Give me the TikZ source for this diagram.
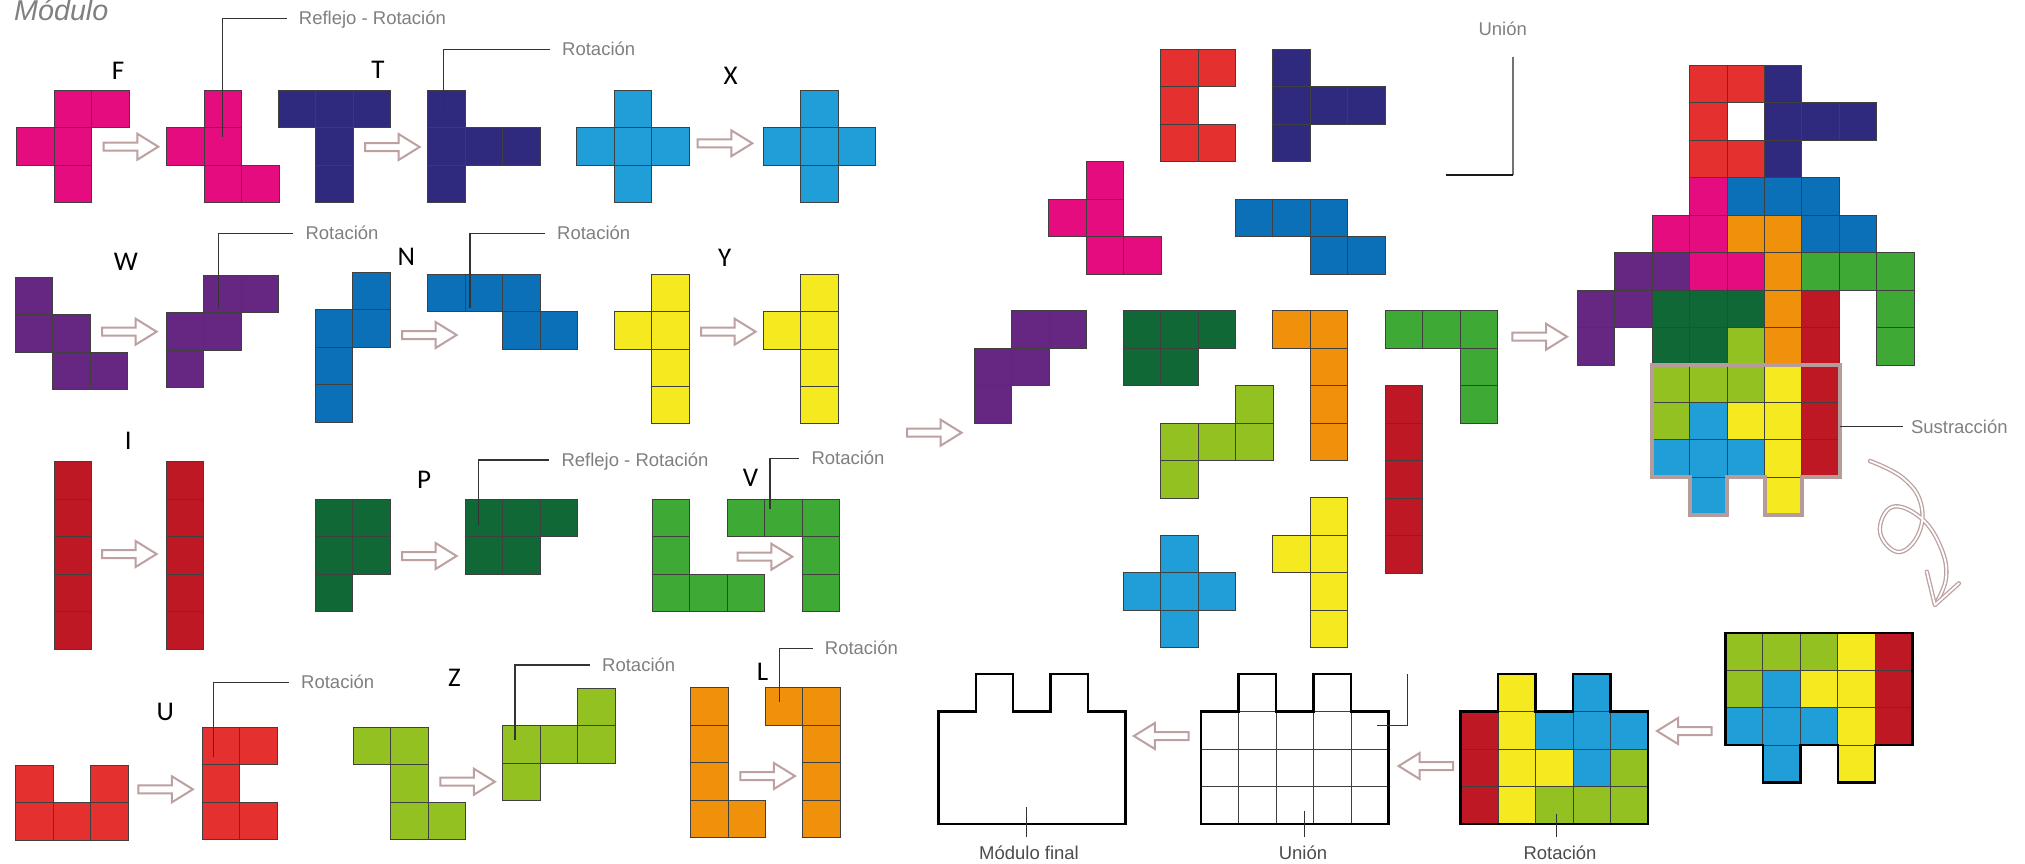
\documentclass[tikz,border=0pt]{standalone}
\usepackage{fontspec}
\setmainfont{Liberation Sans}
\newfontfamily\lblfont{Carlito}
\definecolor{cF}{HTML}{E40C7E}
\definecolor{cT}{HTML}{2F2A7E}
\definecolor{cX}{HTML}{209ED8}
\definecolor{cW}{HTML}{652781}
\definecolor{cN}{HTML}{0B70B7}
\definecolor{cY}{HTML}{F5E920}
\definecolor{cI}{HTML}{BE1824}
\definecolor{cP}{HTML}{106836}
\definecolor{cV}{HTML}{3EAA35}
\definecolor{cU}{HTML}{E53030}
\definecolor{cZ}{HTML}{93C121}
\definecolor{cL}{HTML}{F0910C}
\definecolor{arrowc}{HTML}{BCA1A0}
\definecolor{subc}{HTML}{B59C9B}
\definecolor{textgray}{HTML}{808080}
\def\cs{37.45}
\newcommand\pmino[4]{\foreach \cc/\rr in {#4}{\draw[cell,fill=#1] ({#2+\cc*\cs},{#3+\rr*\cs}) rectangle ++(\cs,\cs);}}
\newcommand\barR[2]{\draw[barrow] (#1,#2) ++(1,-4) -- ++(33.6,0) -- ++(0,-9) -- ++(21,13) -- ++(-21,13) -- ++(0,-9) -- ++(-33.6,0) -- cycle;}
\newcommand\barL[2]{\draw[barrow] (#1,#2) ++(-1,-4) -- ++(-33.6,0) -- ++(0,-9) -- ++(-21,13) -- ++(21,13) -- ++(0,-9) -- ++(33.6,0) -- cycle;}
\newcommand\callout[6]{\node[callt,anchor=west] (#1) at (#5,#4) {#6};
  \draw[cline] (#2,#3) |- (#1.west);}
\newcommand\tabsdown[3]{\draw[#1] (#2,#3) -- ++(5*\cs,0) -- ++(0,3*\cs) -- ++(-\cs,0) -- ++(0,\cs) -- ++(-\cs,0) -- ++(0,-\cs) -- ++(-\cs,0) -- ++(0,\cs) -- ++(-\cs,0) -- ++(0,-\cs) -- ++(-\cs,0) -- cycle;}
\newcommand\tabsup[3]{\draw[#1] (#2,#3) ++(0,\cs) -- ++(\cs,0) -- ++(0,-\cs) -- ++(\cs,0) -- ++(0,\cs) -- ++(\cs,0) -- ++(0,-\cs) -- ++(\cs,0) -- ++(0,\cs) -- ++(\cs,0) -- ++(0,3*\cs) -- ++(-5*\cs,0) -- cycle;}
\begin{document}
\begin{tikzpicture}[x=1pt,y=-1pt,
  cell/.style={draw=black!75,line width=0.8},
  barrow/.style={draw=arrowc,line width=2,fill=white,line join=miter},
  callt/.style={font=\fontsize{18.5}{22}\selectfont,text=textgray,inner xsep=12,inner ysep=0,text height=17,text depth=3.7},
  botl/.style={font=\fontsize{18.5}{22}\selectfont,text=black!70,inner xsep=0,inner ysep=5,text height=17,text depth=3.7},
  cline/.style={draw=black!80,line width=1.2},
  lbl/.style={font=\lblfont\fontsize{27}{30}\selectfont,anchor=base,inner sep=0},
  thickout/.style={draw=black,line width=2.5,line join=miter},
  subout/.style={draw=subc,line width=4,line join=miter},
  curly/.style={draw=arrowc,double=white,double distance=1.8,line width=1.3,line join=round,line cap=round}]
\useasboundingbox (0,0) rectangle (2025,864);
\fill[white] (0,0) rectangle (2025,864);
% title
\node[font=\itshape\fontsize{28.7}{32}\selectfont,text=textgray,anchor=base west,inner sep=0] (title) at (14,21) {Módulo};
% ---------- left panel ----------
% F
\pmino{cF}{16.7}{90}{1/0,2/0,0/1,1/1,1/2}
\pmino{cF}{166.7}{90}{1/0,0/1,1/1,1/2,2/2}
\barR{102.7}{146.7}
\node[lbl] (lF) at (118,80) {F};
% T
\pmino{cT}{278.3}{90}{0/0,1/0,2/0,1/1,1/2}
\pmino{cT}{427.7}{90}{0/0,0/1,1/1,2/1,0/2}
\barR{364}{147}
\node[lbl] (lT) at (378,79) {T};
% X
\pmino{cX}{576.7}{90}{1/0,0/1,1/1,2/1,1/2}
\pmino{cX}{763.3}{90}{1/0,0/1,1/1,2/1,1/2}
\barR{696.7}{143.3}
\node[lbl] (lX) at (730.7,85) {X};
% W
\pmino{cW}{15}{277.3}{0/0,0/1,1/1,1/2,2/2}
\pmino{cW}{166}{275}{1/0,2/0,0/1,1/1,0/2}
\barR{101}{331.7}
\node[lbl] (lW) at (125.8,270) {W};
% N
\pmino{cN}{315.3}{272.3}{1/0,0/1,1/1,0/2,0/3}
\pmino{cN}{427.7}{274}{0/0,1/0,2/0,2/1,3/1}
\barR{401}{335}
\node[lbl] (lN) at (406.3,265) {N};
% Y
\pmino{cY}{614.3}{274}{1/0,0/1,1/1,1/2,1/3}
\pmino{cY}{763.3}{274}{1/0,0/1,1/1,1/2,1/3}
\barR{700}{331.7}
\node[lbl] (lY) at (724.7,266.7) {Y};
% I
\pmino{cI}{54.3}{461.7}{0/0,0/1,0/2,0/3,0/4}
\pmino{cI}{166}{461.7}{0/0,0/1,0/2,0/3,0/4}
\barR{101}{554}
\node[lbl] (lI) at (128.3,449.3) {I};
% P
\pmino{cP}{315.3}{499}{0/0,1/0,0/1,1/1,0/2}
\pmino{cP}{465}{499}{0/0,1/0,2/0,0/1,1/1}
\barR{401}{556}
\node[lbl] (lP) at (424,488.3) {P};
% V
\pmino{cV}{652.3}{499}{0/0,0/1,0/2,1/2,2/2}
\pmino{cV}{727.3}{499}{0/0,1/0,2/0,2/1,2/2}
\barR{736.7}{556.7}
\node[lbl] (lV) at (750.5,486.7) {V};
% U
\pmino{cU}{15.7}{765}{0/0,2/0,0/1,1/1,2/1}
\pmino{cU}{202.3}{727.3}{0/0,1/0,0/1,0/2,1/2}
\barR{137.3}{789.3}
\node[lbl] (lU) at (165.3,720) {U};
% Z
\pmino{cZ}{353.3}{727.3}{0/0,1/0,1/1,1/2,2/2}
\pmino{cZ}{502.7}{688.3}{2/0,0/1,1/1,2/1,0/2}
\barR{439.3}{781.7}
\node[lbl] (lZ) at (454.5,686) {Z};
% L
\pmino{cL}{690.7}{687.7}{0/0,0/1,0/2,0/3,1/3}
\pmino{cL}{765}{687.7}{0/0,1/0,1/1,1/2,1/3}
\barR{739.3}{776}
\node[lbl] (lL) at (762.5,680.7) {L};
% callouts
\callout{kF}{222.7}{136.7}{18.3}{286.7}{Reflejo - Rotación}
\callout{kT}{443.3}{111.7}{49.3}{550}{Rotación}
\callout{kW}{218.3}{308.3}{233.3}{293.3}{Rotación}
\callout{kN}{470}{308.3}{233.3}{545}{Rotación}
\callout{kP}{478.3}{525}{460}{549.3}{Reflejo - Rotación}
\callout{kV}{770}{509.3}{458.3}{799.3}{Rotación}
\callout{kU}{213.7}{756.7}{682.3}{289}{Rotación}
\callout{kZ}{515}{740}{665}{590}{Rotación}
\callout{kL}{779.3}{701.7}{648.3}{812.7}{Rotación}
% big arrow
\barR{906}{432.7}
% ---------- middle pieces ----------
\pmino{cU}{1160.7}{49.3}{0/0,1/0,0/1,0/2,1/2}
\pmino{cT}{1272.7}{49.3}{0/0,0/1,1/1,2/1,0/2}
\pmino{cF}{1048.7}{161.7}{1/0,0/1,1/1,1/2,2/2}
\pmino{cN}{1235.3}{199}{0/0,1/0,2/0,2/1,3/1}
\pmino{cW}{974}{310.7}{1/0,2/0,0/1,1/1,0/2}
\pmino{cP}{1123.3}{310.7}{0/0,1/0,2/0,0/1,1/1}
\pmino{cL}{1272.7}{310.7}{0/0,1/0,1/1,1/2,1/3}
\pmino{cV}{1385}{310.7}{0/0,1/0,2/0,2/1,2/2}
\pmino{cZ}{1160.7}{385.7}{2/0,0/1,1/1,2/1,0/2}
\pmino{cI}{1385}{385.7}{0/0,0/1,0/2,0/3,0/4}
\pmino{cX}{1123.3}{535}{1/0,0/1,1/1,2/1,1/2}
\pmino{cY}{1272.7}{497.7}{1/0,0/1,1/1,1/2,1/3}
\barR{1511.4}{336.7}
% Union label top
\node[callt,inner xsep=0] (lun) at (1502.7,29) {Unión};
\coordinate (ua) at (1513.4,56.7);
\coordinate (ub) at (1513.4,175);
\coordinate (uc) at (1446,175);
\draw[draw=black!55,line width=2] (ua) -- (ub);
\draw[draw=black!90,line width=1.8] (ub) -- (uc);
% ---------- composite ----------
\def\cx{1577.1}\def\cy{65.3}
\pmino{cU}{\cx}{\cy}{3/0,4/0,3/1,3/2,4/2}
\pmino{cT}{\cx}{\cy}{5/0,5/1,6/1,7/1,5/2}
\pmino{cF}{\cx}{\cy}{3/3,2/4,3/4,3/5,4/5}
\pmino{cN}{\cx}{\cy}{4/3,5/3,6/3,6/4,7/4}
\pmino{cL}{\cx}{\cy}{4/4,5/4,5/5,5/6,5/7}
\pmino{cV}{\cx}{\cy}{6/5,7/5,8/5,8/6,8/7}
\pmino{cW}{\cx}{\cy}{1/5,2/5,0/6,1/6,0/7}
\pmino{cP}{\cx}{\cy}{2/6,3/6,4/6,2/7,3/7}
\pmino{cI}{\cx}{\cy}{6/6,6/7,6/8,6/9,6/10}
\pmino{cZ}{\cx}{\cy}{4/7,2/8,3/8,4/8,2/9}
\pmino{cX}{\cx}{\cy}{3/9,2/10,3/10,4/10,3/11}
\pmino{cY}{\cx}{\cy}{5/8,5/9,4/9,5/10,5/11}
\tabsdown{subout}{1652.4}{364.9}
\node[callt,anchor=west,inner xsep=8] (lsus) at (1902.8,426.7) {Sustracción};
\coordinate (sa) at (1839.9,426.7);
\draw[cline] (sa) -- (lsus.west);
% curly arrow
\draw[curly] plot[smooth,tension=0.7] coordinates {(1870,461) (1903,478) (1921,504) (1918,535) (1898,552) (1880,532) (1892,507) (1921,518) (1941,548) (1946,578) (1936,603)};
\coordinate (ha) at (1926.8,571.7);
\coordinate (hb) at (1934.9,605);
\coordinate (hc) at (1958.9,583.3);
\draw[curly] (ha) -- (hb) -- (hc);
% ---------- bottom row ----------
% after subtraction
\def\ax{1725.4}\def\ay{632.8}
\pmino{cZ}{\ax}{\ay}{0/0,1/0,2/0,0/1}
\pmino{cY}{\ax}{\ay}{3/0,2/1,3/1,3/2,3/3}
\pmino{cI}{\ax}{\ay}{4/0,4/1,4/2}
\pmino{cX}{\ax}{\ay}{1/1,0/2,1/2,2/2,1/3}
\tabsdown{thickout}{\ax}{\ay}
\barL{1712.6}{731}
% rotation
\def\rx{1460.7}\def\ry{674}
\pmino{cY}{\rx}{\ry}{1/0,1/1,1/2,2/2,1/3}
\pmino{cX}{\rx}{\ry}{3/0,2/1,3/1,4/1,3/2}
\pmino{cI}{\rx}{\ry}{0/1,0/2,0/3}
\pmino{cZ}{\rx}{\ry}{4/2,2/3,3/3,4/3}
\tabsup{thickout}{\rx}{\ry}
\barL{1454.2}{766}
% union
\def\ux{1201.1}\def\uy{674}
\pmino{white}{\ux}{\uy}{1/0,3/0,0/1,1/1,2/1,3/1,4/1,0/2,1/2,2/2,3/2,4/2,0/3,1/3,2/3,3/3,4/3}
\tabsup{thickout}{\ux}{\uy}
\coordinate (ud) at (1407.7,674);
\coordinate (ue) at (1407.7,725.8);
\coordinate (uf) at (1376.8,725.8);
\draw[cline] (ud) -- (ue) -- (uf);
\barL{1189.5}{736}
% final
\tabsup{thickout}{938.3}{674}
% bottom labels
\node[botl] (lfin) at (1029,852.4) {Módulo final};
\node[botl] (lub) at (1303,852.4) {Unión};
\node[botl] (lrot) at (1560,852.4) {Rotación};
\coordinate (pf) at (1026.8,807);
\coordinate (pu) at (1304.4,811);
\coordinate (pr) at (1556.3,813.6);
\draw[cline] (pf) -- (pf |- lfin.north);
\draw[cline] (pu) -- (pu |- lub.north);
\draw[cline] (pr) -- (pr |- lrot.north);
\end{tikzpicture}
\end{document}
